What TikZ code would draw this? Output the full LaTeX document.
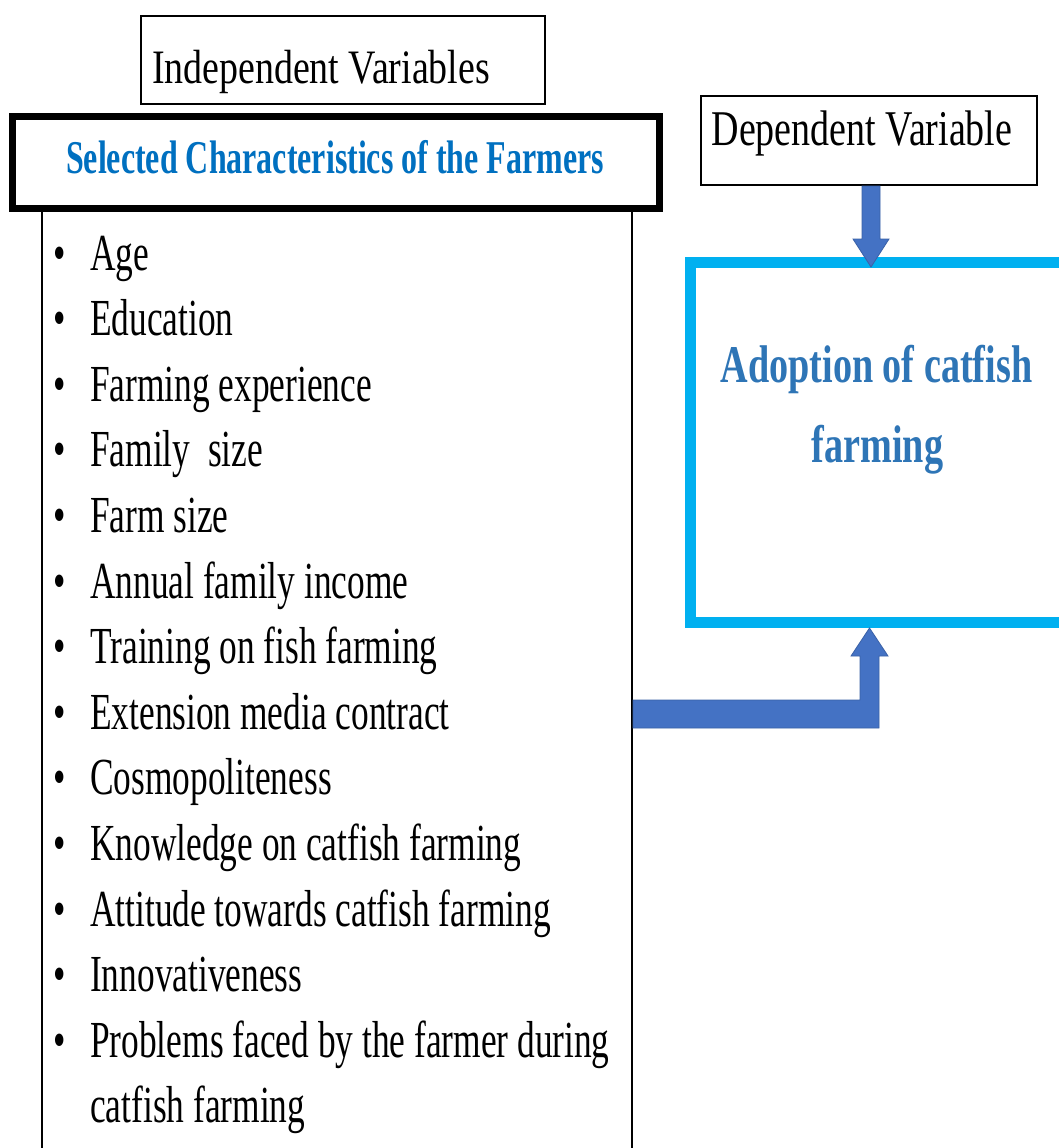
\documentclass[tikz,border=0pt]{standalone}
\usepackage{fontspec}
\setmainfont{Liberation Serif}
% condensed cuts of the serif face for the different labels
\newfontfamily\indepfont[FakeStretch=0.79]{Liberation Serif}
\newfontfamily\depfont[FakeStretch=0.76]{Liberation Serif}
\newfontfamily\itemfont[FakeStretch=0.68]{Liberation Serif}
\newfontfamily\headfont[FakeStretch=0.68]{Liberation Serif}
\newfontfamily\adoptfont[FakeStretch=0.72]{Liberation Serif}
\usetikzlibrary{calc}

\definecolor{headblue}{HTML}{0070C0}
\definecolor{adoptblue}{HTML}{2E75B6}
\definecolor{boxcyan}{HTML}{00B0F0}
\definecolor{arrowblue}{HTML}{4472C4}

\tikzset{
  thinbox/.style={draw=black, line width=2pt, fill=white, inner sep=0pt},
  thickbox/.style={draw=black, line width=7pt, fill=white, inner sep=0pt},
  cyanbox/.style={draw=boxcyan, line width=11pt, inner sep=0pt},
  itemtext/.style={anchor=base west, inner sep=0pt, font=\itemfont\fontsize{52}{60}\selectfont},
  bullettext/.style={anchor=base, inner sep=0pt, font=\itemfont\fontsize{52}{60}\selectfont},
  blockarrow/.style={fill=arrowblue, draw=arrowblue!85!black, line width=0.8pt, line join=miter},
}

\begin{document}
\begin{tikzpicture}[x=1pt, y=-1pt]
\useasboundingbox (0,0) rectangle (1058,1148);
\fill[white] (0,0) rectangle (1058,1148);

% list of characteristics (runs off the lower edge)
\node[thinbox, minimum width=590pt, minimum height=965pt] (list) at (337,687.5) {};

% heading boxes
\node[thinbox, minimum width=404pt, minimum height=88pt] (indep) at (343,60) {};
\node[anchor=base, inner sep=0pt, font=\indepfont\fontsize{48}{50}\selectfont] (indeptext) at (321,83) {Independent Variables};

\node[thickbox, minimum width=647pt, minimum height=92pt] (head) at (336,162.5) {};
\node[anchor=base, inner sep=0pt, text=headblue, font=\headfont\bfseries\fontsize{47}{50}\selectfont] (headtext) at (335,173) {Selected Characteristics of the Farmers};

\node[thinbox, minimum width=336pt, minimum height=89pt] (dep) at (869,140.5) {};
\node[anchor=base, inner sep=0pt, font=\depfont\fontsize{50}{52}\selectfont] (deptext) at (862,145) {Dependent Variable};

% outcome box (right side runs past the edge)
\node[cyanbox, minimum width=389.5pt, minimum height=360pt] (adopt) at (885.25,442.5) {};
\node[anchor=base, inner sep=0pt, text=adoptblue, font=\adoptfont\bfseries\fontsize{53}{55}\selectfont] (adopt1) at (876.5,382) {Adoption of catfish};
\node[anchor=base, inner sep=0pt, text=adoptblue, font=\adoptfont\bfseries\fontsize{53}{55}\selectfont] (adopt2) at (877.5,462) {farming};

% bulleted items
\foreach \txt [count=\k from 0] in {Age, Education, Farming experience, Family~ size, Farm size,
    Annual family income, Training on fish farming, Extension media contract, Cosmopoliteness,
    Knowledge on catfish farming, Attitude towards catfish farming, Innovativeness,
    Problems faced by the farmer during}{
  \node[bullettext] (bullet\k) at (60,270+\k*65.6) {•};
  \node[itemtext] (item\k) at (90,270+\k*65.6) {\txt};
}
\node[itemtext] (item13) at (90,270+13*65.6) {catfish farming};

% arrow from the dependent-variable label down to the outcome box
\coordinate (dtip) at (871,267);
\coordinate (dtop) at (dtip |- dep.south);
\coordinate (dbase) at ($(dtip)+(0,-28)$);
\draw[blockarrow] ($(dtop)+(-9,0)$) -- ($(dbase)+(-9,0)$) -- ($(dbase)+(-18,0)$) -- (dtip)
  -- ($(dbase)+(18,0)$) -- ($(dbase)+(9,0)$) -- ($(dtop)+(9,0)$) -- cycle;

% bent arrow from the list up into the outcome box
\coordinate (bend) at (869.5,714);
\coordinate (bstart) at (list.east |- bend);
\coordinate (btip) at (bend |- adopt.south);
\coordinate (bbase) at ($(btip)+(0,28)$);
\draw[blockarrow] ($(bstart)+(0,-14)$) -- ($(bend)+(-9.5,-14)$) -- ($(bbase)+(-9.5,0)$)
  -- ($(bbase)+(-18.5,0)$) -- (btip) -- ($(bbase)+(18.5,0)$) -- ($(bbase)+(9.5,0)$)
  -- ($(bend)+(9.5,14)$) -- ($(bstart)+(0,14)$) -- cycle;
\end{tikzpicture}
\end{document}
